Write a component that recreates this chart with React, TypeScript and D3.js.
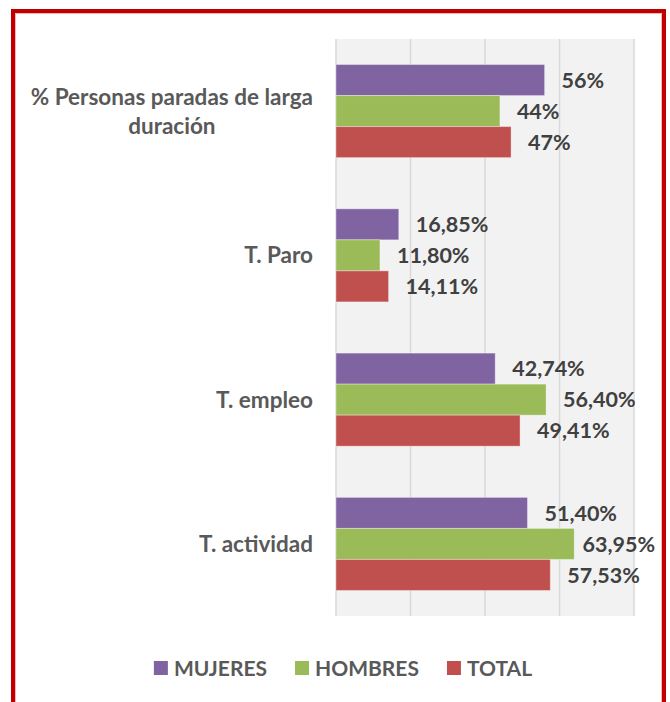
import React, { useEffect, useRef } from "react";
import * as d3 from "d3";

const categories = ["% Personas paradas de larga duración", "T. Paro", "T. empleo", "T. actividad"];
const categoryLines = [["% Personas paradas de larga", "duración"], ["T. Paro"], ["T. empleo"], ["T. actividad"]];
const seriesNames = ["MUJERES", "HOMBRES", "TOTAL"];
const seriesColors = ["#8064A2", "#9BBB59", "#C0504D"];
const mujeres = [56, 16.85, 42.74, 51.4];
const hombres = [44, 11.8, 56.4, 63.95];
const total = [47, 14.11, 49.41, 57.53];
const xTicks = [0, 20, 40, 60, 80];

const fmt = (v: number) => (Number.isInteger(v) ? `${v}%` : v.toFixed(2).replace(".", ",") + "%");

const App: React.FC = () => {
  const svgRef = useRef<SVGSVGElement | null>(null);

  useEffect(() => {
    if (!svgRef.current) return;
    const width = 670;
    const height = 702;
    const plot = { left: 336, right: 634, top: 39, bottom: 616 };
    const font = "Lato, 'Open Sans', sans-serif";

    const series = [mujeres, hombres, total];

    const x = d3.scaleLinear().domain([0, 80]).range([plot.left, plot.right]);
    const y = d3.scaleBand().domain(categories).range([plot.top, plot.bottom]).paddingInner(0.355).paddingOuter(0.177);
    const ySub = d3.scaleBand().domain(seriesNames).range([0, y.bandwidth()]);

    const svg = d3.select(svgRef.current);
    svg.selectAll("*").remove();

    svg.append("rect").attr("width", width).attr("height", height).attr("fill", "#fff");

    // plot background + grid
    svg.append("rect")
      .attr("x", plot.left).attr("y", plot.top)
      .attr("width", plot.right - plot.left).attr("height", plot.bottom - plot.top)
      .attr("fill", "#F2F2F2");

    svg.append("g").selectAll("line")
      .data(xTicks)
      .enter()
      .append("line")
      .attr("x1", d => x(d)).attr("x2", d => x(d))
      .attr("y1", plot.top).attr("y2", plot.bottom)
      .attr("stroke", "#D9D9D9")
      .attr("stroke-width", 1.5);

    // bars
    const groups = svg.append("g").selectAll("g")
      .data(categories)
      .enter()
      .append("g")
      .attr("transform", d => `translate(0,${y(d)})`);

    groups.each(function (cat, ci) {
      const g = d3.select(this);
      seriesNames.forEach((s, si) => {
        const v = series[si][ci];
        const by = ySub(s) ?? 0;
        g.append("rect")
          .attr("x", x(0))
          .attr("y", by)
          .attr("width", x(v) - x(0))
          .attr("height", ySub.bandwidth())
          .attr("fill", seriesColors[si])
          .attr("stroke", "rgba(255,255,255,0.35)")
          .attr("stroke-width", 1);
        const t = g.append("text")
          .attr("x", x(v) + 17)
          .attr("y", by + ySub.bandwidth() / 2)
          .attr("dy", "0.36em")
          .attr("font-family", font)
          .attr("font-weight", 700)
          .attr("font-size", 21.5)
          .attr("fill", "#404040")
          .text(fmt(v));
        const w = (t.node() as SVGTextElement).getComputedTextLength();
        if (x(v) + 17 + w > 655) t.attr("x", 655 - w);
      });

      // category label
      const lines = categoryLines[ci];
      const lh = 29;
      const cy = (y.bandwidth()) / 2;
      const lab = g.append("text")
        .attr("font-family", font)
        .attr("font-weight", 700)
        .attr("font-size", 22.5)
        .attr("fill", "#595959")
        .attr("text-anchor", "middle");
      const spans = lines.map((ln, li) =>
        lab.append("tspan")
          .attr("y", cy + (li - (lines.length - 1) / 2) * lh)
          .attr("dy", "0.36em")
          .text(ln)
      );
      const widths = spans.map(sp => (sp.node() as SVGTSpanElement).getComputedTextLength());
      const maxW = d3.max(widths) ?? 0;
      const rightEdge = 313;
      spans.forEach(sp => sp.attr("x", rightEdge - maxW / 2));
    });

    // legend
    const legend = svg.append("g");
    const items = seriesNames.map((name, i) => {
      const g = legend.append("g");
      g.append("rect").attr("x", 0).attr("y", -7).attr("width", 14).attr("height", 14).attr("fill", seriesColors[i]);
      const t = g.append("text")
        .attr("x", 20)
        .attr("dy", "0.36em")
        .attr("font-family", font)
        .attr("font-weight", 700)
        .attr("font-size", 21)
        .attr("fill", "#595959")
        .text(name);
      return { g, w: 20 + (t.node() as SVGTextElement).getComputedTextLength() };
    });
    const gap = 28;
    const totalW = d3.sum(items, d => d.w) + gap * (items.length - 1);
    let lx = 343 - totalW / 2;
    items.forEach(it => {
      it.g.attr("transform", `translate(${lx},668)`);
      lx += it.w + gap;
    });

    // border
    svg.append("path")
      .attr("d", `M13,${height} L13,11 L664,11 L664,${height}`)
      .attr("fill", "none")
      .attr("stroke", "#C00000")
      .attr("stroke-width", 4);
    svg.append("path")
      .attr("d", `M15.5,${height} L15.5,13.5 L661.5,13.5 L661.5,${height}`)
      .attr("fill", "none")
      .attr("stroke", "#F4B6B6")
      .attr("stroke-width", 1);
  }, []);

  return (
    <svg
      ref={svgRef}
      width={670}
      height={702}
      style={{ position: "absolute", left: 0, top: 0, display: "block" }}
    ></svg>
  );
};

export default App;
